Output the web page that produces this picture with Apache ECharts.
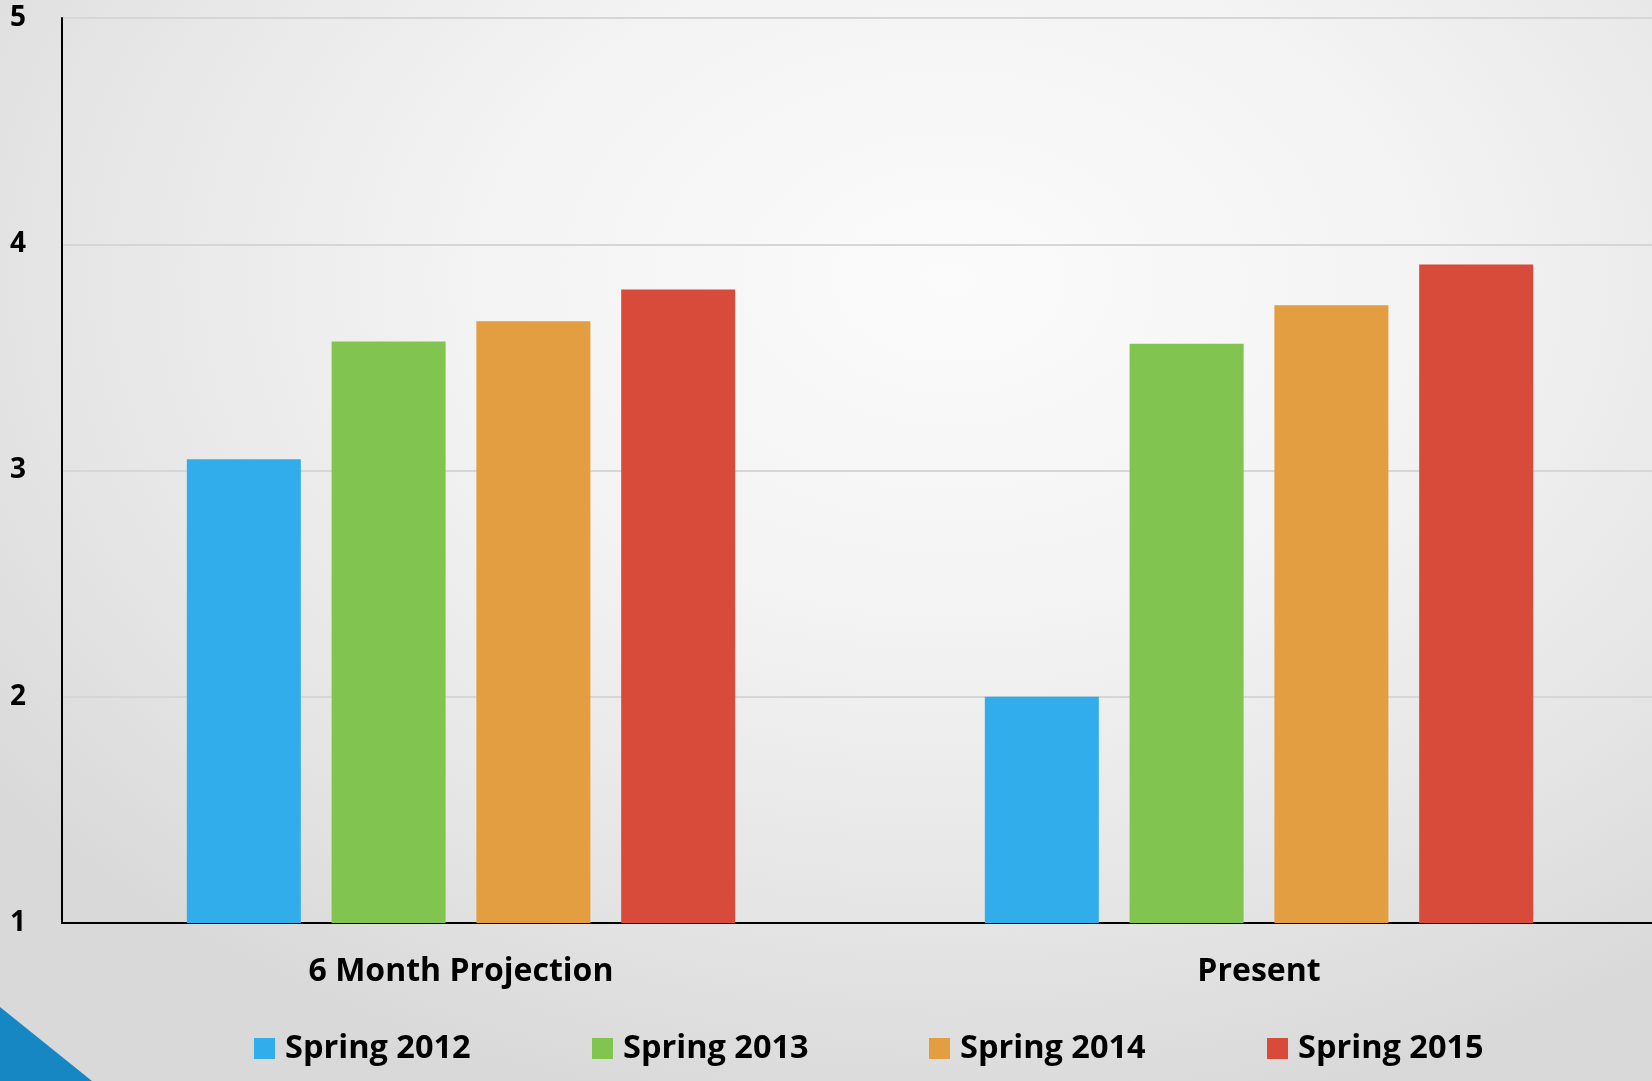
<!DOCTYPE html>
<html>
<head>
<meta charset="utf-8">
<script src="https://cdn.jsdelivr.net/npm/echarts@6/dist/echarts.min.js"></script>
<style>
html,body{margin:0;padding:0;width:1652px;height:1081px;overflow:hidden;}
body{background:radial-gradient(ellipse 1200px 850px at 950px 280px,#fbfbfb 0%,#f3f3f3 40%,#e5e5e5 75%,#d9d9d9 100%);}
#chart{width:1680px;height:1081px;}
</style>
</head>
<body>
<div id="chart"></div>
<script>
const categories = ['6 Month Projection', 'Present'];
const seriesNames = ['Spring 2012', 'Spring 2013', 'Spring 2014', 'Spring 2015'];
const spring2012 = [3.05, 2.0];
const spring2013 = [3.57, 3.56];
const spring2014 = [3.66, 3.73];
const spring2015 = [3.80, 3.91];
const yTicks = [1, 2, 3, 4, 5];
const colors = ['#32ADEB', '#82C450', '#E29E40', '#D84B3B'];
const values = [spring2012, spring2013, spring2014, spring2015];

const font = '"Open Sans", Lato, sans-serif';
const chart = echarts.init(document.getElementById('chart'));
const legendLeft = [254, 592, 929, 1267];

chart.setOption({
  backgroundColor: 'transparent',
  animation: false,
  color: colors,
  grid: {left: 62, width: 1596, top: 18, bottom: 158, containLabel: false},
  xAxis: {
    type: 'category',
    data: categories,
    axisLine: {lineStyle: {color: '#000', width: 2}},
    axisTick: {show: false},
    axisLabel: {color: '#000', fontFamily: font, fontWeight: 'bold', fontSize: 32, margin: 33}
  },
  yAxis: {
    type: 'value',
    min: yTicks[0],
    max: yTicks[yTicks.length - 1],
    interval: 1,
    axisLine: {show: true, lineStyle: {color: '#000', width: 2}},
    axisTick: {show: false},
    splitLine: {lineStyle: {color: '#d6d6d6', width: 2}},
    axisLabel: {color: '#000', fontFamily: font, fontWeight: 'bold', fontSize: 28, align: 'left', margin: 52, padding: [6, 0, 0, 0]}
  },
  legend: legendLeft.map((x, i) => ({
    data: [seriesNames[i]],
    left: x,
    top: 1032,
    padding: 0,
    itemWidth: 21,
    itemHeight: 21,
    icon: 'rect',
    textStyle: {color: '#000', fontFamily: font, fontWeight: 'bold', fontSize: 32.5, padding: [0, 0, 0, 5]}
  })),
  series: seriesNames.map((n, i) => ({
    name: n,
    type: 'bar',
    data: values[i],
    barWidth: 114,
    barGap: '27%',
    itemStyle: {color: colors[i]}
  })),
  graphic: [{
    type: 'polygon',
    shape: {points: [[0, 1007], [92, 1081], [0, 1081]]},
    style: {fill: '#1787C4'}
  }]
});
</script>
</body>
</html>
